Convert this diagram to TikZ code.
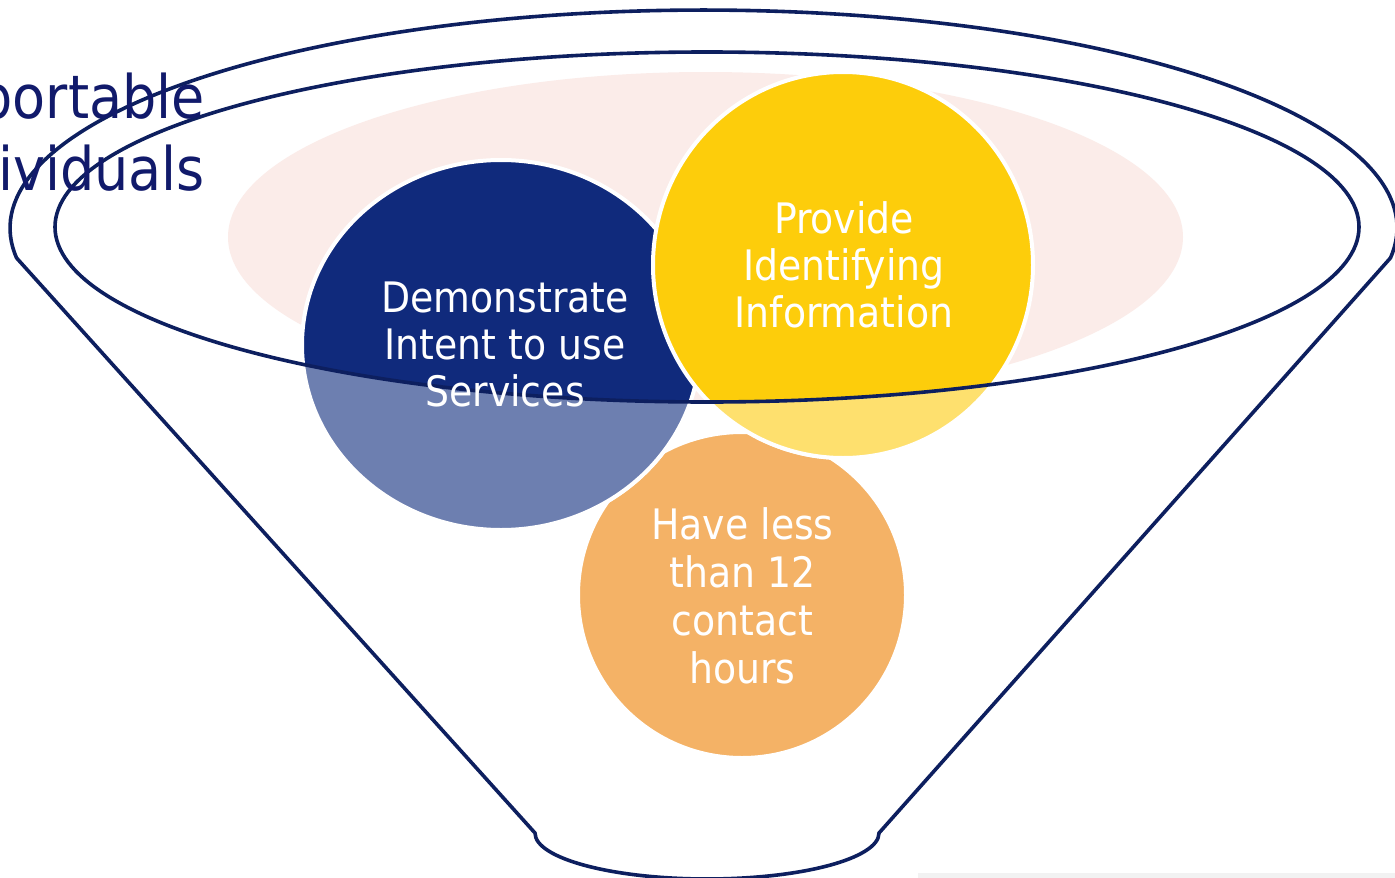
\documentclass[tikz,border=0pt]{standalone}
\usepackage{fontspec}
\setmainfont{DejaVu Sans Condensed}
\definecolor{navy}{HTML}{102A7C}
\definecolor{navylight}{HTML}{6D7FB0}
\definecolor{gold}{HTML}{FDCD0B}
\definecolor{goldlight}{HTML}{FEE06E}
\definecolor{apricot}{HTML}{F4B266}
\definecolor{blush}{HTML}{FBECE9}
\definecolor{funnelline}{HTML}{0D1F5F}
\definecolor{titleblue}{HTML}{111A6B}
\definecolor{bargray}{HTML}{F2F2F2}
\tikzset{
  funnelstroke/.style={draw=funnelline, line width=3.6pt},
  bubbleedge/.style={draw=white, line width=4pt},
  bubbletext/.style={text=white, align=center, inner sep=0pt, anchor=base,
    font=\fontsize{42}{47}\selectfont},
}
\begin{document}
\begin{tikzpicture}[x=1pt,y=-1pt]
\useasboundingbox (0,0) rectangle (1395,878);
\clip (0,0) rectangle (1395,878);
\fill[white] (0,0) rectangle (1395,878);
% pink background ellipse
\fill[blush] (705.5,237) ellipse [x radius=477.5pt, y radius=165pt];
% bubbles
\fill[apricot, bubbleedge] (742,595) ellipse [x radius=164pt, y radius=163pt];
\fill[navy, bubbleedge] (501,345) ellipse [x radius=199pt, y radius=185pt];
\fill[gold, bubbleedge] (843,265) ellipse [x radius=190pt, y radius=193pt];
% lighter parts in front of the funnel mouth
\begin{scope}
  \clip (55,227) arc[start angle=180, end angle=360, x radius=652pt, y radius=175pt]
        -- (1359,900) -- (55,900) -- cycle;
  \fill[navylight, bubbleedge] (501,345) ellipse [x radius=199pt, y radius=185pt];
  \fill[goldlight, bubbleedge] (843,265) ellipse [x radius=190pt, y radius=193pt];
\end{scope}
% funnel mouth
\draw[funnelstroke] (707,227) ellipse [x radius=652pt, y radius=175pt];
% funnel outline
\draw[funnelstroke, line join=round]
  (1390.4,258) arc[start angle=-7.9, end angle=187.9, x radius=693.5pt, y radius=218pt]
  -- (535,833)
  arc[start angle=180, end angle=360, x radius=172pt, y radius=46pt]
  -- cycle;
% gray strip
\fill[bargray] (918,873) rectangle (1395,878);
% texts (base anchor = baseline of the last line)
\node[text=titleblue, align=right, inner sep=0pt, anchor=base east,
  font=\fontsize{60}{72}\selectfont] (title) at (205,190) {Supportable\\Individuals};
\node[bubbletext] (intent) at (505,406) {Demonstrate\\Intent to use\\Services};
\node[bubbletext] (ident) at (844,327) {Provide\\Identifying\\Information};
\node[bubbletext, font=\fontsize{42}{48}\selectfont] (hours) at (742.5,683) {Have less\\than 12\\contact\\hours};
\end{tikzpicture}
\end{document}
